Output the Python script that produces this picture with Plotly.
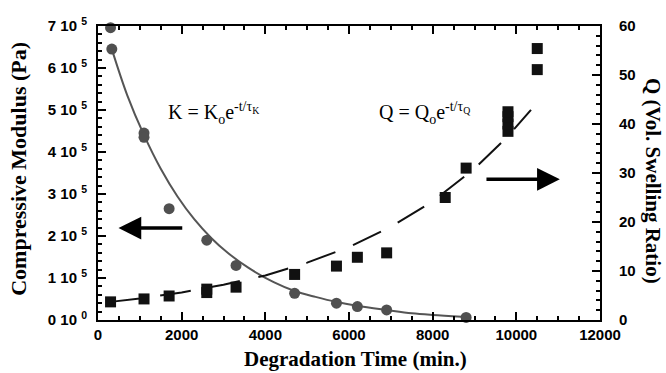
import plotly.graph_objects as go

# ---- data ----
t_K = [300, 330, 1100, 1100, 1700, 2600, 3300, 4700, 5700, 6200, 6900, 8800]
K = [6.96e5, 6.45e5, 4.45e5, 4.35e5, 2.65e5, 1.90e5, 1.30e5, 0.635e5, 0.40e5, 0.32e5, 0.24e5, 0.06e5]

fitK_t = [330, 700, 1100, 1500, 1900, 2300, 2700, 3100, 3600, 4200, 4700, 5200, 5700, 6200, 6900, 7500, 8000, 8700]
fitK = [6.45e5, 5.35e5, 4.4e5, 3.6e5, 2.94e5, 2.40e5, 1.96e5, 1.60e5, 1.24e5, 0.90e5, 0.69e5,
        0.55e5, 0.43e5, 0.34e5, 0.24e5, 0.16e5, 0.12e5, 0.08e5]

t_Q = [300, 1100, 1700, 2600, 2600, 3300, 4700, 5700, 6200, 6900, 8300, 8800,
       9800, 9800, 9800, 9800, 10500, 10500]
Q = [3.7, 4.3, 4.9, 5.6, 6.3, 6.7, 9.3, 11.0, 12.8, 13.7, 25.0, 31.0,
     38.5, 40.0, 41.5, 42.5, 51.1, 55.4]

fitQ_t = [300, 1000, 2000, 3000, 4000, 5000, 6000, 7000, 8000, 9000, 9800, 10350]
fitQ = [3.7, 4.4, 5.6, 7.2, 9.1, 11.7, 14.9, 19.0, 24.2, 30.9, 37.5, 42.9]

x_ticks = [0, 2000, 4000, 6000, 8000, 10000, 12000]
x_text = ["0", "2000", "4000", "6000", "8000", "10000", "12000"]
yK_ticks = [0, 1e5, 2e5, 3e5, 4e5, 5e5, 6e5, 7e5]
yK_text = ["0 10 <sup>0</sup>", "1 10 <sup>5</sup>", "2 10 <sup>5</sup>", "3 10 <sup>5</sup>",
           "4 10 <sup>5</sup>", "5 10 <sup>5</sup>", "6 10 <sup>5</sup>", "7 10 <sup>5</sup>"]

x_title = "Degradation Time (min.)"
yK_title = "Compressive Modulus (Pa)"
yQ_title = "Q (Vol. Swelling Ratio)"

SANS = "Liberation Sans, Arial, sans-serif"
SERIF = "Liberation Serif, Times New Roman, serif"

fig = go.Figure()
fig.add_trace(go.Scatter(x=fitK_t, y=fitK, mode="lines", line_shape="spline",
                         line=dict(color="#555555", width=2), showlegend=False))
fig.add_trace(go.Scatter(x=t_K, y=K, mode="markers", cliponaxis=False,
                         marker=dict(symbol="circle", size=11, color="#505050"), showlegend=False))
fig.add_trace(go.Scatter(x=fitQ_t, y=fitQ, mode="lines", yaxis="y2",
                         line=dict(color="#111111", width=2, dash="31px,19px"), showlegend=False))
fig.add_trace(go.Scatter(x=t_Q, y=Q, mode="markers", yaxis="y2", cliponaxis=False,
                         marker=dict(symbol="square", size=11, color="#111111"), showlegend=False))

tickfont = dict(family=SANS, size=15, color="black", weight="bold")

fig.update_layout(
    width=666, height=373,
    margin=dict(l=98, r=66, t=26, b=53),
    paper_bgcolor="white", plot_bgcolor="white",
    xaxis=dict(range=[0, 12000], tickvals=x_ticks, ticktext=x_text, ticks="inside", ticklen=8,
               tickwidth=1.5, tickcolor="black", showline=True, linecolor="black", linewidth=2,
               mirror="ticks", showgrid=False, zeroline=False, tickfont=tickfont, automargin=False,
               minor=dict(dtick=500, ticks="inside", ticklen=4, tickcolor="black", tickwidth=1.5)),
    yaxis=dict(range=[0, 7e5], tickvals=yK_ticks, ticktext=yK_text, ticks="inside", ticklen=8,
               tickwidth=1.5, tickcolor="black", showline=True, linecolor="black", linewidth=2,
               showgrid=False, zeroline=False, tickfont=tickfont, ticklabelstandoff=6, automargin=False,
               minor=dict(dtick=2e4, ticks="inside", ticklen=4, tickcolor="black", tickwidth=1.5)),
    yaxis2=dict(range=[0, 60], overlaying="y", side="right", dtick=10, ticks="inside", ticklen=8,
                tickwidth=1.5, tickcolor="black", showline=True, linecolor="black", linewidth=2,
                showgrid=False, zeroline=False, tickfont=tickfont, ticklabelstandoff=14, automargin=False,
                minor=dict(dtick=2, ticks="inside", ticklen=4, tickcolor="black", tickwidth=1.5)),
)

# axis titles
fig.add_annotation(x=0.512, y=-0.1327, xref="paper", yref="paper", text=x_title, showarrow=False,
                   xanchor="center", yanchor="middle",
                   font=dict(family=SERIF, size=21, color="black", weight="bold"))
fig.add_annotation(x=-0.159, y=0.515, xref="paper", yref="paper", text=yK_title, showarrow=False,
                   textangle=-90, xanchor="center", yanchor="middle",
                   font=dict(family=SERIF, size=22, color="black", weight="bold"))
fig.add_annotation(x=1.1056, y=0.473, xref="paper", yref="paper", text=yQ_title, showarrow=False,
                   textangle=90, xanchor="center", yanchor="middle",
                   font=dict(family=SERIF, size=21, color="black", weight="bold"))

eqfont = dict(family=SERIF, size=20, color="black")
fig.add_annotation(x=1635, y=4.92e5, xref="x", yref="y", xanchor="left", yanchor="middle",
                   text="K = K<sub>o</sub>e<sup>-t/τ<sub>K</sub></sup>", showarrow=False, font=eqfont)
fig.add_annotation(x=6670, y=4.92e5, xref="x", yref="y", xanchor="left", yanchor="middle",
                   text="Q = Q<sub>o</sub>e<sup>-t/τ<sub>Q</sub></sup>", showarrow=False, font=eqfont)

# arrows
fig.add_annotation(x=490, y=2.19e5, ax=2050, ay=2.19e5, xref="x", yref="y", axref="x", ayref="y",
                   text="", showarrow=True, arrowhead=2, arrowsize=1.3, arrowwidth=3.5, arrowcolor="black")
fig.add_annotation(x=11040, y=3.35e5, ax=9250, ay=3.35e5, xref="x", yref="y", axref="x", ayref="y",
                   text="", showarrow=True, arrowhead=2, arrowsize=1.3, arrowwidth=3.5, arrowcolor="black")

fig.write_html("out.html")
